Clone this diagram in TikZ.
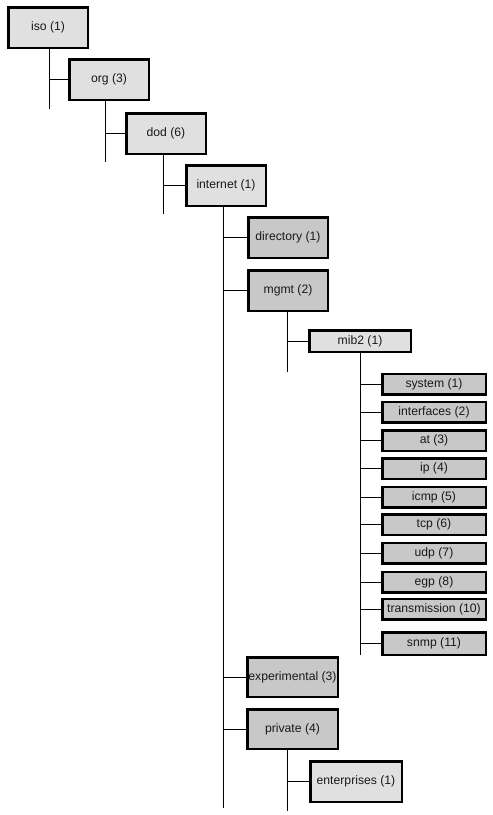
\documentclass[tikz,border=0pt]{standalone}
\usepackage{fontspec}
\setmainfont{Liberation Sans}
\definecolor{lightbox}{RGB}{224,224,224}
\definecolor{darkbox}{RGB}{200,200,200}
\begin{document}
\begin{tikzpicture}[x=1pt,y=-1pt,
  box/.style={draw=black, line width=2.5pt, inner sep=0pt, font=\fontsize{12.2}{14}\selectfont, text=black!90},
  lbox/.style={box, fill=lightbox},
  dbox/.style={box, fill=darkbox},
  big/.style={minimum width=79.5pt, minimum height=40.5pt},
  kid/.style={minimum width=103.5pt, minimum height=20.5pt},
  conn/.style={line width=1pt}]
\useasboundingbox (0,0) rectangle (493,815);
% level nodes
\node[lbox,big] (iso) at (48,27.5) {iso (1)};
\node[lbox,big] (org) at (109,79.5) {org (3)};
\node[lbox,big] (dod) at (166,133.5) {dod (6)};
\node[lbox,big] (internet) at (226,185.5) {internet (1)};
\node[dbox,big] (directory) at (288,237.5) {directory (1)};
\node[dbox,big] (mgmt) at (288,290.5) {mgmt (2)};
\node[lbox,minimum width=101.5pt,minimum height=21.5pt] (mib2) at (360,341) {mib2 (1)};
\node[dbox,kid] (system) at (434,384) {system (1)};
\node[dbox,kid] (interfaces) at (434,412) {interfaces (2)};
\node[dbox,kid] (at) at (434,440.5) {at (3)};
\node[dbox,kid] (ip) at (434,468.5) {ip (4)};
\node[dbox,kid] (icmp) at (434,497) {icmp (5)};
\node[dbox,kid] (tcp) at (434,524.5) {tcp (6)};
\node[dbox,kid] (udp) at (434,553) {udp (7)};
\node[dbox,kid] (egp) at (434,582) {egp (8)};
\node[dbox,kid] (transmission) at (434,609) {transmission (10)};
\node[dbox,kid,minimum height=22.5pt] (snmp) at (434,643.5) {snmp (11)};
\node[dbox,minimum width=90.5pt,minimum height=39.5pt] (experimental) at (292.5,677) {experimental (3)};
\node[dbox,minimum width=90.5pt,minimum height=39.5pt] (private) at (292.5,729) {private (4)};
\node[lbox,minimum width=91.5pt,minimum height=40.5pt] (enterprises) at (356,781.5) {enterprises (1)};
% stem ends
\coordinate (e1) at (49,109);
\coordinate (e2) at (105,162);
\coordinate (e3) at (163,214);
\coordinate (e4) at (223.5,808);
\coordinate (e5) at (287,372);
\coordinate (e6) at (360.5,655);
\coordinate (e7) at (287,811);
% stems
\draw[conn] (iso.south -| e1) -- (e1);
\draw[conn] (org.south -| e2) -- (e2);
\draw[conn] (dod.south -| e3) -- (e3);
\draw[conn] (internet.south -| e4) -- (e4);
\draw[conn] (mgmt.south -| e5) -- (e5);
\draw[conn] (mib2.south -| e6) -- (e6);
\draw[conn] (private.south -| e7) -- (e7);
% branches
\draw[conn] (org.west -| e1) -- (org.west);
\draw[conn] (dod.west -| e2) -- (dod.west);
\draw[conn] (internet.west -| e3) -- (internet.west);
\foreach \n in {directory,mgmt,experimental,private}
  \draw[conn] (\n.west -| e4) -- (\n.west);
\draw[conn] (mib2.west -| e5) -- (mib2.west);
\foreach \n in {system,interfaces,at,ip,icmp,tcp,udp,egp,transmission,snmp}
  \draw[conn] (\n.west -| e6) -- (\n.west);
\draw[conn] (enterprises.west -| e7) -- (enterprises.west);
\end{tikzpicture}
\end{document}
